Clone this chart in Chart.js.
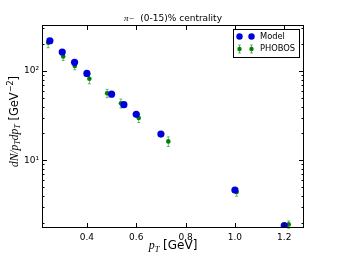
<!DOCTYPE html>
<html><head><meta charset="utf-8">
<style>html,body{margin:0;padding:0;background:#fff}</style>
</head><body>
<canvas id="c" width="338" height="254"></canvas>
<script src="https://cdn.jsdelivr.net/npm/chart.js"></script>
<script>
// data
const modelX = [0.25, 0.30, 0.35, 0.40, 0.50, 0.55, 0.60, 0.70, 1.00, 1.20];
const modelY = [218, 163, 125, 94, 55, 42, 32.7, 19.7, 4.65, 1.86];
const phobosX = [0.243, 0.304, 0.351, 0.41, 0.482, 0.538, 0.61, 0.73, 1.007, 1.218];
const phobosY = [207, 145, 114, 82, 56.3, 43.5, 29.8, 16.3, 4.42, 1.92];
const phobosErr = [25, 14, 11, 10, 6, 5, 3.3, 2, 0.45, 0.18];
const xTicks = [0.4, 0.6, 0.8, 1.0, 1.2];
const yTicks = [10, 100];
const yMinor = [2, 3, 4, 5, 6, 7, 8, 9, 20, 30, 40, 50, 60, 70, 80, 90, 200, 300];

const BLUE = '#0000dd', GREEN = '#008000', BAR = 'rgba(0,128,0,0.55)';
const SANS = '"DejaVu Sans", sans-serif';

// rich text with sub/superscripts, drawn centred at (x, y)
function drawRich(ctx, segs, x, y, size) {
  const fontOf = s => {
    const sz = (s.sub || s.sup) ? size * 0.7 : size;
    return (s.it ? 'italic ' + sz + 'px "Liberation Serif", serif' : sz + 'px ' + SANS);
  };
  let w = 0;
  segs.forEach(s => { ctx.font = fontOf(s); s.w = ctx.measureText(s.t).width; w += s.w; });
  let cx = x - w / 2;
  ctx.textBaseline = 'middle';
  ctx.textAlign = 'left';
  segs.forEach(s => {
    ctx.font = fontOf(s);
    let dy = s.sub ? size * 0.28 : (s.sup ? -size * 0.38 : 0);
    ctx.fillText(s.t, cx, y + dy);
    cx += s.w;
  });
}

function errBar(ctx, x, yTop, yBot) {
  ctx.beginPath();
  ctx.moveTo(x, yTop); ctx.lineTo(x, yBot);
  ctx.moveTo(x - 1.5, yTop); ctx.lineTo(x + 1.5, yTop);
  ctx.moveTo(x - 1.5, yBot); ctx.lineTo(x + 1.5, yBot);
  ctx.stroke();
}

const decor = {
  id: 'decor',
  beforeDatasetsDraw(chart) {
    const ctx = chart.ctx, xs = chart.scales.x, ys = chart.scales.y;
    ctx.save();
    ctx.strokeStyle = BAR; ctx.lineWidth = 1;
    phobosX.forEach((v, i) => {
      errBar(ctx, xs.getPixelForValue(v),
        ys.getPixelForValue(phobosY[i] + phobosErr[i]),
        ys.getPixelForValue(phobosY[i] - phobosErr[i]));
    });
    ctx.restore();
  },
  afterDraw(chart) {
    const ctx = chart.ctx, a = chart.chartArea, xs = chart.scales.x, ys = chart.scales.y;
    ctx.save();
    ctx.strokeStyle = '#000'; ctx.lineWidth = 1;
    ctx.strokeRect(Math.round(a.left) + 0.5, Math.round(a.top) + 0.5,
      Math.round(a.right - a.left) - 1, Math.round(a.bottom - a.top) - 1);
    // inward ticks on all four sides
    ctx.beginPath();
    xTicks.forEach(v => {
      const px = Math.round(xs.getPixelForValue(v)) + 0.5;
      ctx.moveTo(px, a.bottom); ctx.lineTo(px, a.bottom - 5);
      ctx.moveTo(px, a.top); ctx.lineTo(px, a.top + 5);
    });
    yTicks.forEach(v => {
      const py = Math.round(ys.getPixelForValue(v)) + 0.5;
      ctx.moveTo(a.left, py); ctx.lineTo(a.left + 5, py);
      ctx.moveTo(a.right, py); ctx.lineTo(a.right - 5, py);
    });
    yMinor.forEach(v => {
      const py = Math.round(ys.getPixelForValue(v)) + 0.5;
      ctx.moveTo(a.left, py); ctx.lineTo(a.left + 2.5, py);
      ctx.moveTo(a.right, py); ctx.lineTo(a.right - 2.5, py);
    });
    ctx.stroke();

    ctx.fillStyle = '#000';
    // title
    drawRich(ctx, [{t: 'π', it: true}, {t: '−', it: true}, {t: '  (0-15)% centrality'}],
      (a.left + a.right) / 2, a.top - 6, 9);
    // x title
    drawRich(ctx, [{t: 'p', it: true}, {t: 'T', it: true, sub: true}, {t: ' [GeV]'}],
      (a.left + a.right) / 2, 246, 12);
    // y title
    ctx.save();
    ctx.translate(15, (a.top + a.bottom) / 2 - 5);
    ctx.rotate(-Math.PI / 2);
    drawRich(ctx, [{t: 'dN/p', it: true}, {t: 'T', it: true, sub: true}, {t: 'dp', it: true},
      {t: 'T', it: true, sub: true}, {t: ' [GeV'}, {t: '−2', sup: true}, {t: ']'}], 0, 0, 11.5);
    ctx.restore();

    // legend
    const lx = 233, ly = 29, lw = 66, lh = 28;
    ctx.fillStyle = '#fff';
    ctx.fillRect(lx, ly, lw, lh);
    ctx.strokeStyle = '#000';
    ctx.strokeRect(lx + 0.5, ly + 0.5, lw, lh);
    [239.5, 251.5].forEach(mx => {
      ctx.fillStyle = BLUE;
      ctx.beginPath(); ctx.arc(mx, 36.5, 3.2, 0, Math.PI * 2); ctx.fill();
      ctx.strokeStyle = BAR;
      errBar(ctx, mx, 45, 53);
      ctx.fillStyle = GREEN;
      ctx.beginPath(); ctx.arc(mx, 49, 2.2, 0, Math.PI * 2); ctx.fill();
    });
    ctx.fillStyle = '#000';
    ctx.font = '8.3px ' + SANS;
    ctx.textAlign = 'left'; ctx.textBaseline = 'middle';
    ctx.fillText('Model', 260, 36.5);
    ctx.fillText('PHOBOS', 260, 49);
    ctx.restore();
  }
};

new Chart(document.getElementById('c'), {
  type: 'scatter',
  data: {
    datasets: [
      {
        label: 'Model',
        data: modelX.map((x, i) => ({x: x, y: modelY[i]})),
        pointRadius: 3.6, backgroundColor: BLUE, borderColor: BLUE, borderWidth: 0
      },
      {
        label: 'PHOBOS',
        data: phobosX.map((x, i) => ({x: x, y: phobosY[i]})),
        pointRadius: 2.3, backgroundColor: GREEN, borderColor: GREEN, borderWidth: 0
      }
    ]
  },
  options: {
    responsive: false,
    animation: false,
    devicePixelRatio: 1,
    layout: {padding: {top: 25, right: 34, left: 0, bottom: 0}},
    plugins: {legend: {display: false}, tooltip: {enabled: false}, title: {display: false}},
    scales: {
      x: {
        type: 'linear', min: 0.218, max: 1.28,
        grid: {display: false, drawTicks: false}, border: {display: false},
        afterBuildTicks: s => { s.ticks = xTicks.map(v => ({value: v})); },
        afterFit: s => { s.height = 26; },
        ticks: {padding: 4, color: '#000', font: {family: SANS, size: 9}, callback: v => v.toFixed(1)}
      },
      y: {
        type: 'logarithmic', min: 1.75, max: 327,
        grid: {display: false, drawTicks: false}, border: {display: false},
        afterBuildTicks: s => { s.ticks = yTicks.map(v => ({value: v})); },
        afterFit: s => { s.width = 42; },
        ticks: {padding: 3, color: '#000', font: {family: SANS, size: 9},
          callback: v => v === 10 ? '10¹' : (v === 100 ? '10²' : '')}
      }
    }
  },
  plugins: [decor]
});
</script>
</body></html>
